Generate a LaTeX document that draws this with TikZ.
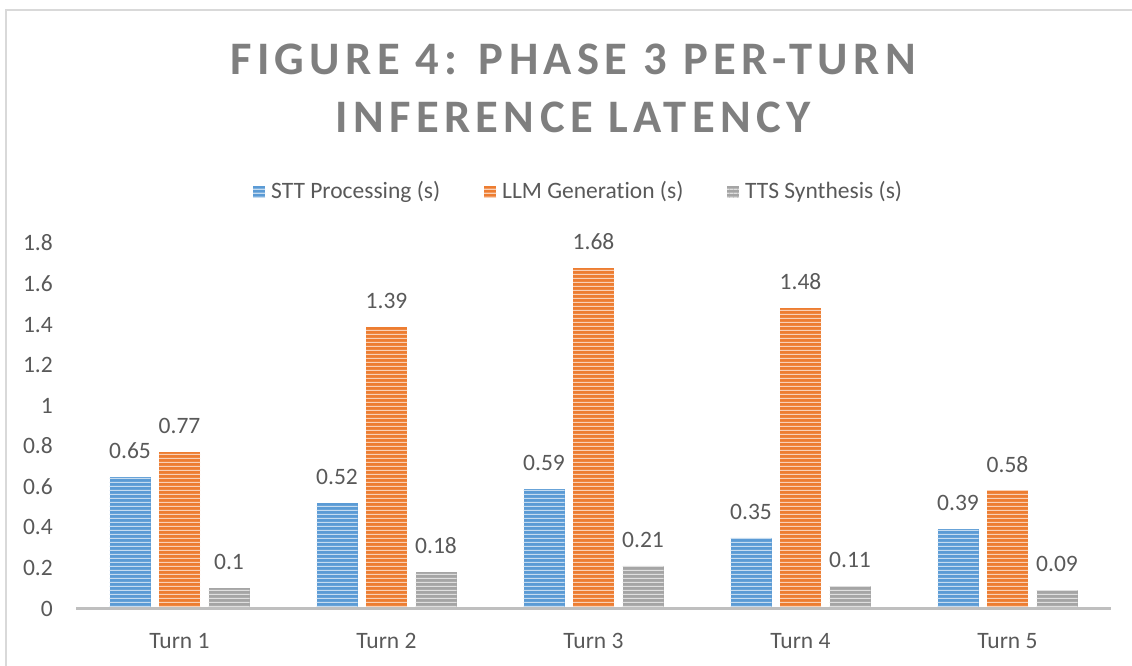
\documentclass[tikz,border=0pt]{standalone}
\usepackage{fontspec}
\setmainfont{Carlito}[Ligatures={NoCommon}]
\usetikzlibrary{patterns.meta}
\definecolor{cblue}{HTML}{5B9BD5}
\definecolor{corange}{HTML}{ED7D31}
\definecolor{cgray}{HTML}{A5A5A5}
\definecolor{ctext}{HTML}{595959}
\definecolor{ctitle}{HTML}{7F7F7F}
\definecolor{cborder}{HTML}{D9D9D9}
\definecolor{caxis}{HTML}{BFBFBF}
\tikzdeclarepattern{
  name=hstripes,
  type=uncolored,
  bounding box={(0pt,0pt) and (4.3pt,4.3pt)},
  tile size={(4.3pt,4.3pt)},
  code={\fill (0pt,0pt) rectangle (4.3pt,1.4pt);}
}
\tikzset{
  titletext/.style={font=\fontsize{46.6}{56}\selectfont\bfseries\addfontfeature{LetterSpace=11.5}, text=ctitle, inner sep=0pt, anchor=base},
  lbl/.style={font=\fontsize{23.5}{28}\selectfont, text=ctext, inner sep=0pt},
  border/.style={draw=cborder, line width=1.7pt},
  axisline/.style={draw=caxis, line width=3pt},
}
\newcommand\chartbar[4]{%
  \pgfmathsetmacro\ytop{608.5-#2*202.8}
  \path[fill=#3] ({#1-20.5},608.5) rectangle ({#1+20.5},\ytop);
  \path[pattern=hstripes, pattern color=#3!35!white] ({#1-20.5},608.5) rectangle ({#1+20.5},\ytop);
  \node[lbl, anchor=base] (#4) at (#1,{\ytop-18.5}) {#2};
}
\newcommand\legsquare[3]{%
  \path[fill=#3] (#1,#2) rectangle ({#1+12},{#2+12});
  \path[pattern=hstripes, pattern color=#3!35!white] (#1,#2) rectangle ({#1+12},{#2+12});
}
\begin{document}
\begin{tikzpicture}[x=1pt,y=-1pt]
\useasboundingbox (0,0) rectangle (1132,666);
\draw[border] (6,666) -- (6,10) -- (1132,10);
\node[titletext] (t1) at (573,75) {FIGURE 4: PHASE 3 PER-TURN};
\node[titletext] (t2) at (573,133) {INFERENCE LATENCY};
% legend
\legsquare{253}{186}{cblue}
\node[lbl, anchor=base west] (l1) at (271,198) {STT Processing (s)};
\legsquare{484}{186}{corange}
\node[lbl, anchor=base west] (l2) at (502,198) {LLM Generation (s)};
\legsquare{727}{186}{cgray}
\node[lbl, anchor=base west] (l3) at (745,198) {TTS Synthesis (s)};
% y axis labels
\foreach \v/\t in {0/0,0.2/0.2,0.4/0.4,0.6/0.6,0.8/0.8,1/1,1.2/1.2,1.4/1.4,1.6/1.6,1.8/1.8}{
  \node[lbl, anchor=base east] (y\t) at (53,{608.5-\v*202.8+7.5}) {\t};
}
% bars
\foreach \i/\a/\b/\c in {1/0.65/0.77/0.1, 2/0.52/1.39/0.18, 3/0.59/1.68/0.21, 4/0.35/1.48/0.11, 5/0.39/0.58/0.09}{
  \pgfmathsetmacro\cx{76+207*(\i-0.5)}
  \chartbar{\cx-49.5}{\a}{cblue}{s\i}
  \chartbar{\cx}{\b}{corange}{l\i}
  \chartbar{\cx+49.5}{\c}{cgray}{t\i}
  \node[lbl, anchor=base] (c\i) at (\cx,648) {Turn \i};
}
\draw[axisline] (76,608.5) -- (1111,608.5);
\end{tikzpicture}
\end{document}
